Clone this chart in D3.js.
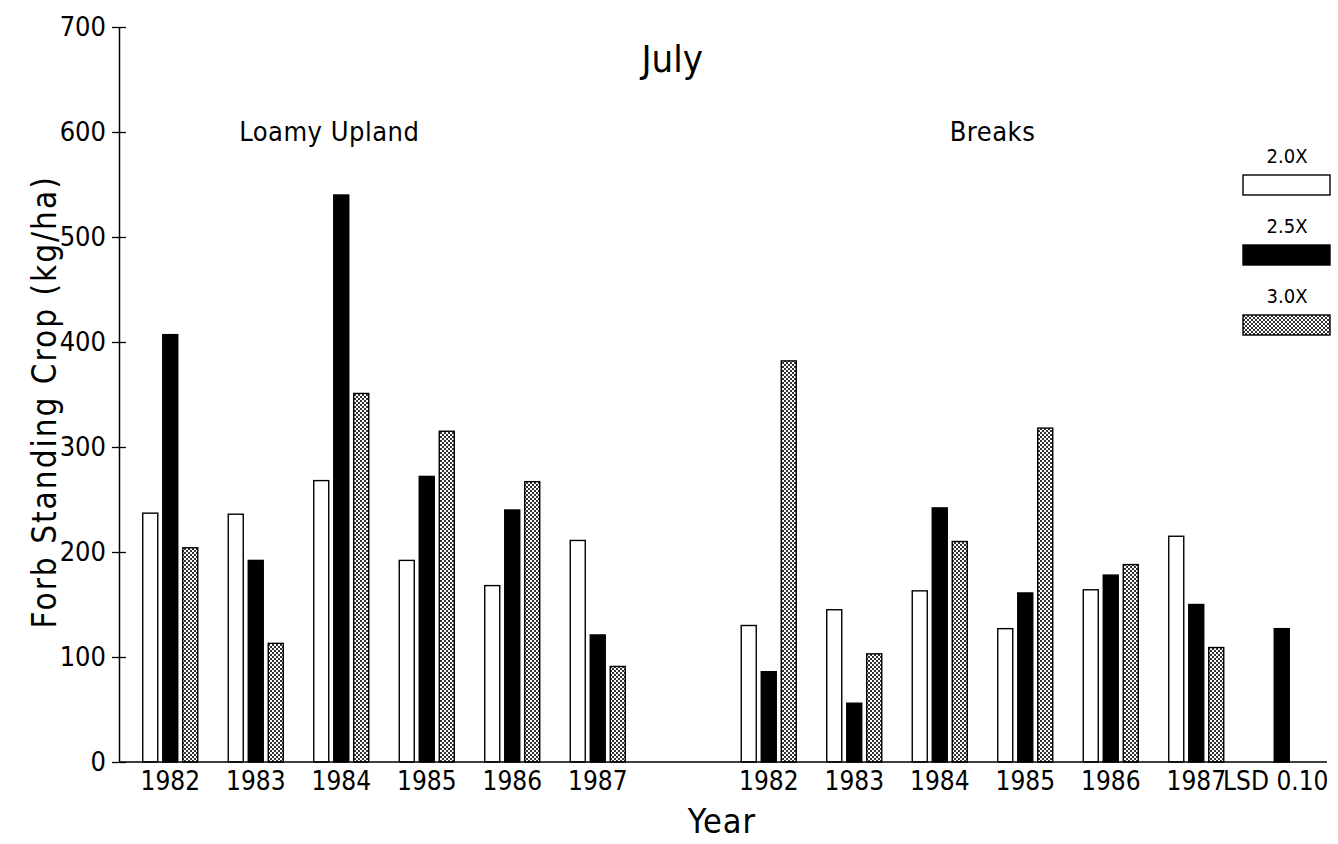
<!DOCTYPE html>
<html>
<head>
<meta charset="utf-8">
<script src="https://cdn.jsdelivr.net/npm/d3@7"></script>
<style>
  html, body { margin: 0; padding: 0; background: #fff; }
  svg text { fill: #000; font-family: 'Liberation Sans Narrow', 'DejaVu Sans Condensed', 'Liberation Sans', sans-serif; }
</style>
</head>
<body>
<div id="chart"></div>
<script>
// July forb standing crop, by site, year and stocking rate
const years = ['1982', '1983', '1984', '1985', '1986', '1987'];
const treatments = ['2.0X', '2.5X', '3.0X'];
const loamy20 = [237, 236, 268, 192, 168, 211];
const loamy25 = [407, 192, 540, 272, 240, 121];
const loamy30 = [204, 113, 351, 315, 267, 91];
const breaks20 = [130, 145, 163, 127, 164, 215];
const breaks25 = [86, 56, 242, 161, 178, 150];
const breaks30 = [382, 103, 210, 318, 188, 109];
const lsdValue = 127;
const lsdLabel = 'LSD 0.10';
const siteLabels = ['Loamy Upland', 'Breaks'];
const yTicks = [0, 100, 200, 300, 400, 500, 600, 700];

(function () {
  const W = 1338, H = 844;
  const fills = { '2.0X': '#fff', '2.5X': '#000', '3.0X': 'url(#stipple)' };

  // one slot per year and site, an empty slot between the sites, then the LSD bar
  const slots = years.map(y => 'L' + y)
    .concat(['gap'])
    .concat(years.map(y => 'B' + y))
    .concat(['LSD']);
  const slotLabel = s => (s === 'LSD' ? lsdLabel : s === 'gap' ? '' : s.slice(1));

  const bars = [];
  [[loamy20, loamy25, loamy30, 'L'], [breaks20, breaks25, breaks30, 'B']].forEach(([a, b, c, p]) => {
    years.forEach((y, i) => {
      bars.push({ slot: p + y, t: '2.0X', v: a[i] });
      bars.push({ slot: p + y, t: '2.5X', v: b[i] });
      bars.push({ slot: p + y, t: '3.0X', v: c[i] });
    });
  });
  bars.push({ slot: 'LSD', t: '2.5X', v: lsdValue });

  const svg = d3.select('#chart').append('svg')
    .attr('width', W).attr('height', H)
    .attr('viewBox', `0 0 ${W} ${H}`);

  const defs = svg.append('defs');
  const pat = defs.append('pattern')
    .attr('id', 'stipple')
    .attr('patternUnits', 'userSpaceOnUse')
    .attr('width', 4).attr('height', 4);
  pat.append('rect').attr('width', 4).attr('height', 4).attr('fill', '#fff');
  pat.append('rect').attr('width', 2).attr('height', 2).attr('fill', '#333');
  pat.append('rect').attr('x', 2).attr('y', 2).attr('width', 2).attr('height', 2).attr('fill', '#333');

  const x = d3.scaleBand().domain(slots).range([127.5, 1324.5]);
  const groupW = 55;
  const xIn = d3.scaleBand().domain(treatments).range([0, groupW]).paddingInner(0.25);
  const y = d3.scaleLinear().domain([0, 700]).range([762, 27]);

  // bars
  svg.append('g').selectAll('rect')
    .data(bars)
    .enter()
    .append('rect')
    .attr('x', d => x(d.slot) + (x.bandwidth() - groupW) / 2 + xIn(d.t))
    .attr('y', d => y(d.v))
    .attr('width', xIn.bandwidth())
    .attr('height', d => y(0) - y(d.v))
    .attr('fill', d => fills[d.t])
    .attr('stroke', '#000')
    .attr('stroke-width', 1.4);

  // x baseline
  svg.append('line')
    .attr('x1', 119).attr('x2', 1327)
    .attr('y1', y(0)).attr('y2', y(0))
    .attr('stroke', '#000').attr('stroke-width', 1.5);

  // x labels
  const xAxis = svg.append('g')
    .attr('transform', `translate(0,${y(0)})`)
    .call(d3.axisBottom(x).tickSize(0).tickPadding(10).tickFormat(slotLabel));
  xAxis.select('.domain').remove();
  xAxis.selectAll('text')
    .attr('font-family', null)
    .style('font-size', '26px');
  xAxis.selectAll('.tick')
    .filter(d => d === 'LSD')
    .select('text')
    .attr('dx', -6);

  // y axis, ticks cross the line
  const yAxis = svg.append('g')
    .attr('transform', 'translate(119,0)')
    .call(d3.axisLeft(y).tickValues(yTicks).tickSizeInner(7).tickSizeOuter(0).tickPadding(6));
  yAxis.select('.domain').attr('stroke-width', 1.5);
  yAxis.selectAll('.tick line').attr('x1', 7).attr('stroke-width', 1.3);
  yAxis.selectAll('text')
    .attr('font-family', null)
    .style('font-size', '27px');

  // titles
  svg.append('text')
    .attr('text-anchor', 'middle')
    .attr('transform', `translate(56,${y(343)})rotate(-90)`)
    .style('font-size', '33px')
    .style('letter-spacing', '2px')
    .text('Forb Standing Crop (kg/ha)');

  svg.append('text')
    .attr('text-anchor', 'middle')
    .attr('x', 722).attr('y', 833)
    .style('font-size', '34px')
    .style('letter-spacing', '1px')
    .text('Year');

  svg.append('text')
    .attr('text-anchor', 'middle')
    .attr('x', x('gap') + x.bandwidth() / 2 - 11).attr('y', 72)
    .style('font-size', '38px')
    .text('July');

  svg.append('text')
    .attr('text-anchor', 'middle')
    .attr('x', x('L1984') + x.bandwidth() / 2 - 12).attr('y', 141)
    .style('font-size', '27px')
    .style('letter-spacing', '0.5px')
    .text(siteLabels[0]);

  svg.append('text')
    .attr('text-anchor', 'middle')
    .attr('x', x('B1985') + 10).attr('y', 141)
    .style('font-size', '27px')
    .style('letter-spacing', '0.5px')
    .text(siteLabels[1]);

  // legend
  const legend = svg.append('g').attr('transform', 'translate(1243,175)');
  const item = legend.selectAll('g')
    .data(treatments)
    .enter()
    .append('g')
    .attr('transform', (d, i) => `translate(0,${i * 70})`);
  item.append('rect')
    .attr('width', 87).attr('height', 20)
    .attr('fill', d => fills[d])
    .attr('stroke', '#000').attr('stroke-width', 1.4);
  item.append('text')
    .attr('x', 44).attr('y', -12)
    .attr('text-anchor', 'middle')
    .style('font-size', '20px')
    .text(d => d);
})();
</script>
</body>
</html>
